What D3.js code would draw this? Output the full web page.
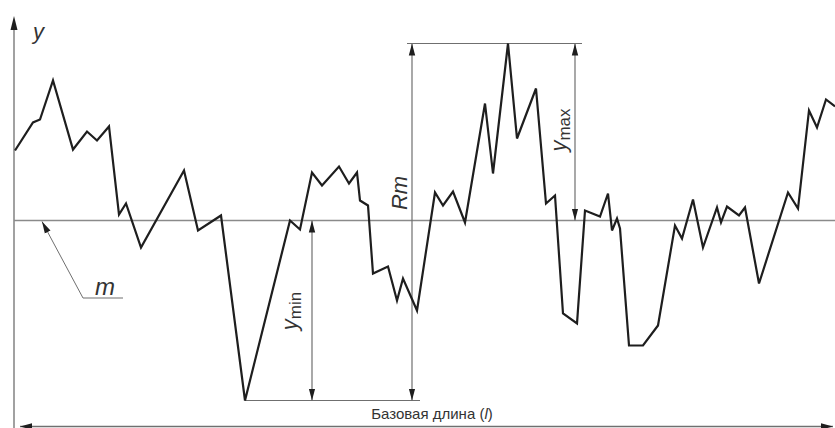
<!DOCTYPE html>
<html>
<head>
<meta charset="utf-8">
<script src="https://cdn.jsdelivr.net/npm/d3@7"></script>
<style>
body { margin: 0; background: #fff; }
text { font-family: "Liberation Sans", Arial, sans-serif; }
</style>
</head>
<body>
<div id="chart"></div>
<script>
// profile: position along base length, deviation from mean line m
var profileX = [1,19,26,39,59,73,83,95,105,112,127,170,184,207,231,276,286,298,308,325,
    335,343,346,354,359,374,383,389,403,421,429,439,451,471,479,494,503,522,532,541,
    549,563,571,586,594,598,603,606,615,629,644,661,668,679,689,703,707,713,725,731,
    745,774,784,795,803,812,821];
var profileY = [70,98,101,140,71,89,80,94,6,17,-27,50,-10,5,-180,0,-9,48,35,54,
    37,48,20,15,-53,-46,-80,-58,-90,28,15,29,-2,117,47,177,82,132,17,25,
    -93,-103,10,4,27,-10,2,-8,-125,-125,-105,-5,-18,21,-27,13,-2,14,5,13,
    -63,28,12,110,93,121,114];

var yMaxVal = d3.max(profileY);
var yMinVal = d3.min(profileY);
var valleyX = profileX[profileY.indexOf(yMinVal)];

// where the dimension arrows sit along the length
var dimX = { ymin: 298, Rm: 398, ymax: 561 };
var baseLabel = "Базовая длина (";

var width = 835, height = 428;

var x = d3.scaleLinear().domain([0, 821]).range([14, 835]);
var y = d3.scaleLinear().domain([-200, 200]).range([420.5, 20.5]);

var svg = d3.select("#chart").append("svg")
    .attr("width", width)
    .attr("height", height);

var defs = svg.append("defs");
defs.append("marker")
    .attr("id", "arr")
    .attr("viewBox", "0 0 12 8")
    .attr("refX", 12).attr("refY", 4)
    .attr("markerWidth", 12).attr("markerHeight", 8)
    .attr("markerUnits", "userSpaceOnUse")
    .attr("orient", "auto-start-reverse")
  .append("path")
    .attr("d", "M0,0.8 L12,4 L0,7.2 Z")
    .attr("fill", "#1e1e1e");

var thin = "#6f6f6f";

// left axis with arrow
svg.append("line")
    .attr("x1", x(0)).attr("x2", x(0))
    .attr("y1", height).attr("y2", 26)
    .attr("stroke", thin).attr("stroke-width", 1.3);
svg.append("path")
    .attr("d", "M" + x(0) + ",16 L" + (x(0) + 3.5) + ",30 L" + (x(0) - 3.5) + ",30 Z")
    .attr("fill", "#1e1e1e");
svg.append("text")
    .attr("x", 33).attr("y", 39)
    .attr("font-size", 22).attr("font-style", "italic")
    .attr("fill", "#333")
    .text("y");

// base length line
svg.append("line")
    .attr("x1", x(0) + 6).attr("x2", 833)
    .attr("y1", 426.5).attr("y2", 426.5)
    .attr("stroke", thin).attr("stroke-width", 1.3)
    .attr("marker-start", "url(#arr)")
    .attr("marker-end", "url(#arr)");
var bl = svg.append("text")
    .attr("x", 432).attr("y", 419)
    .attr("text-anchor", "middle")
    .attr("font-size", 15)
    .attr("fill", "#333");
bl.append("tspan").text(baseLabel);
bl.append("tspan").attr("font-style", "italic").text("l");
bl.append("tspan").text(")");

// mean line m
svg.append("line")
    .attr("x1", x(0)).attr("x2", width)
    .attr("y1", y(0)).attr("y2", y(0))
    .attr("stroke", "#8a8a8a").attr("stroke-width", 1.4);

// leader for m
svg.append("path")
    .attr("d", "M83,298 L" + (x(28)) + "," + (y(0) + 1))
    .attr("fill", "none").attr("stroke", thin).attr("stroke-width", 1)
    .attr("marker-end", "url(#arr)");
svg.append("line")
    .attr("x1", 83).attr("x2", 123).attr("y1", 298).attr("y2", 298)
    .attr("stroke", thin).attr("stroke-width", 1.2);
svg.append("text")
    .attr("x", 95).attr("y", 295)
    .attr("font-size", 24).attr("font-style", "italic")
    .attr("fill", "#333")
    .text("m");

// extension lines
svg.append("line")
    .attr("x1", x(valleyX)).attr("x2", x(dimX.Rm) + 8)
    .attr("y1", y(yMinVal)).attr("y2", y(yMinVal))
    .attr("stroke", thin).attr("stroke-width", 1.2);
svg.append("line")
    .attr("x1", x(dimX.Rm) - 5).attr("x2", x(dimX.ymax) + 7)
    .attr("y1", y(yMaxVal)).attr("y2", y(yMaxVal))
    .attr("stroke", thin).attr("stroke-width", 1.2);

// dimension arrows
function dimLine(dx, v1, v2) {
    svg.append("line")
        .attr("x1", x(dx)).attr("x2", x(dx))
        .attr("y1", y(v1)).attr("y2", y(v2))
        .attr("stroke", thin).attr("stroke-width", 1.2)
        .attr("marker-start", "url(#arr)")
        .attr("marker-end", "url(#arr)");
}
dimLine(dimX.ymin, 0, yMinVal);
dimLine(dimX.Rm, yMaxVal, yMinVal);
dimLine(dimX.ymax, yMaxVal, 0);

function subLabel(cx, cy, sub) {
    var t = svg.append("text")
        .attr("transform", "translate(" + cx + "," + cy + ") rotate(-90)")
        .attr("text-anchor", "middle")
        .attr("fill", "#333");
    t.append("tspan").attr("font-size", 22).attr("font-style", "italic").text("y");
    t.append("tspan").attr("font-size", 17).attr("dy", 4).text(sub);
}
subLabel(x(dimX.ymin) - 15, 311, "min");
subLabel(x(dimX.ymax) - 9, 130, "max");

svg.append("text")
    .attr("transform", "translate(" + (x(dimX.Rm) - 5) + ",193) rotate(-90)")
    .attr("text-anchor", "middle")
    .attr("font-size", 22).attr("font-style", "italic")
    .attr("fill", "#333")
    .text("Rm");

// the profile
var pts = profileX.map(function(d, i) { return [d, profileY[i]]; });
var line = d3.line()
    .x(function(d) { return x(d[0]); })
    .y(function(d) { return y(d[1]); });
svg.append("path")
    .datum(pts)
    .attr("d", line)
    .attr("fill", "none")
    .attr("stroke", "#1e1e1e")
    .attr("stroke-width", 2.2)
    .attr("stroke-linejoin", "miter");
</script>
</body>
</html>
